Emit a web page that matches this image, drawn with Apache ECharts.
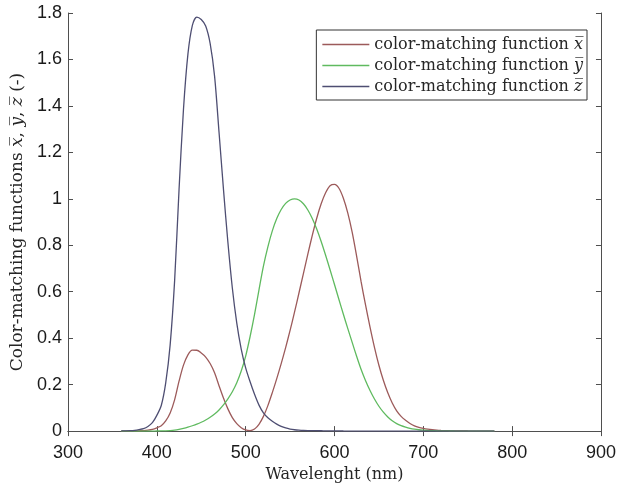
<!DOCTYPE html>
<html><head><meta charset="utf-8">
<script src="https://cdn.jsdelivr.net/npm/echarts@6/dist/echarts.min.js"></script>
<style>html,body{margin:0;padding:0;background:#fff}#c{width:619px;height:488px}</style>
</head><body><div id="c"></div>
<script>
const wavelengths = [360,365,370,375,380,385,390,395,400,405,410,415,420,425,430,435,440,445,450,455,460,465,470,475,480,485,490,495,500,505,510,515,520,525,530,535,540,545,550,555,560,565,570,575,580,585,590,595,600,605,610,615,620,625,630,635,640,645,650,655,660,665,670,675,680,685,690,695,700,705,710,715,720,725,730,735,740,745,750,755,760,765,770,775,780];
const xBar = [0.000130,0.000232,0.000415,0.000742,0.001368,0.002236,0.004243,0.007650,0.014310,0.023190,0.043510,0.077630,0.134380,0.214770,0.283900,0.328500,0.348280,0.348060,0.336200,0.318700,0.290800,0.251100,0.195360,0.142100,0.095640,0.057950,0.032010,0.014700,0.004900,0.002400,0.009300,0.029100,0.063270,0.109600,0.165500,0.225750,0.290400,0.359700,0.433450,0.512050,0.594500,0.678400,0.762100,0.842500,0.916300,0.978600,1.026300,1.056700,1.062200,1.045600,1.002600,0.938400,0.854450,0.751400,0.642400,0.541900,0.447900,0.360800,0.283500,0.218700,0.164900,0.121200,0.087400,0.063600,0.046770,0.032900,0.022700,0.015840,0.011359,0.008111,0.005790,0.004109,0.002899,0.002049,0.001440,0.001000,0.000690,0.000476,0.000332,0.000235,0.000166,0.000117,0.000083,0.000059,0.000042];
const yBar = [0.000004,0.000007,0.000012,0.000022,0.000039,0.000064,0.000120,0.000217,0.000396,0.000640,0.001210,0.002180,0.004000,0.007300,0.011600,0.016840,0.023000,0.029800,0.038000,0.048000,0.060000,0.073900,0.090980,0.112600,0.139020,0.169300,0.208020,0.258600,0.323000,0.407300,0.503000,0.608200,0.710000,0.793200,0.862000,0.914850,0.954000,0.980300,0.994950,1.000000,0.995000,0.978600,0.952000,0.915400,0.870000,0.816300,0.757000,0.694900,0.631000,0.566800,0.503000,0.441200,0.381000,0.321000,0.265000,0.217000,0.175000,0.138200,0.107000,0.081600,0.061000,0.044580,0.032000,0.023200,0.017000,0.011920,0.008210,0.005723,0.004102,0.002929,0.002091,0.001484,0.001047,0.000740,0.000520,0.000361,0.000249,0.000172,0.000120,0.000085,0.000060,0.000042,0.000030,0.000021,0.000015];
const zBar = [0.000606,0.001086,0.001946,0.003486,0.006450,0.010550,0.020050,0.036210,0.067850,0.110200,0.207400,0.371300,0.645600,1.039050,1.385600,1.622960,1.747060,1.782600,1.772110,1.744100,1.669200,1.528100,1.287640,1.041900,0.812950,0.616200,0.465180,0.353300,0.272000,0.212300,0.158200,0.111700,0.078250,0.057250,0.042160,0.029840,0.020300,0.013400,0.008750,0.005750,0.003900,0.002750,0.002100,0.001800,0.001650,0.001400,0.001100,0.001000,0.000800,0.000600,0.000340,0.000240,0.000190,0.000100,0.000050,0.000030,0.000020,0.000010,0,0,0,0,0,0,0,0,0,0,0,0,0,0,0,0,0,0,0,0,0,0,0,0,0,0,0];
const xTicks = [300,400,500,600,700,800,900];
const yTicks = [0,0.2,0.4,0.6,0.8,1,1.2,1.4,1.6,1.8];
const seriesNames = ['x','y','z'];
const colors = ['#9c5a5a','#5fba5f','#4e4e72'];

const pair = a => wavelengths.map((w,i)=>[w,a[i]]);
const serif = '"DejaVu Serif", "Liberation Serif", serif';
const sans = '"Liberation Sans", Arial, sans-serif';
const axisCol = '#4f4f4f';
const mkRich = sz => ({
  n:{fontFamily:serif,fontSize:sz,color:'#262626'},
  v:{fontFamily:serif,fontSize:sz,fontStyle:'italic',color:'#262626'}
});
const chart = echarts.init(document.getElementById('c'),null,{renderer:'canvas'});
const common = {
  axisLine:{lineStyle:{color:axisCol,width:1}},
  axisTick:{inside:true,length:5,lineStyle:{color:axisCol}},
  splitLine:{show:false}
};
chart.setOption({
  animation:false,
  backgroundColor:'#fff',
  grid:{left:68,right:18,top:13,bottom:54},
  legend:{
    data:seriesNames,orient:'vertical',right:32,top:30,
    backgroundColor:'#fff',borderColor:'#333',borderWidth:1,
    padding:[4,4,3,6],itemWidth:47,itemHeight:1.5,itemGap:0,
    icon:'rect',
    formatter: n => '{n|color-matching function }{v|' + n + '\u0305}',
    textStyle:{rich:mkRich(16),lineHeight:21}
  },
  xAxis:[
    Object.assign({type:'value',min:300,max:900,interval:100,position:'bottom',
      name:'Wavelenght (nm)',nameLocation:'middle',nameGap:30,
      nameTextStyle:{fontFamily:serif,fontSize:16,color:'#262626'},
      axisLabel:{fontFamily:sans,fontSize:18,color:'#1a1a1a',margin:13}},common),
    Object.assign({type:'value',min:300,max:900,interval:100,position:'top',
      axisLabel:{show:false}},common)
  ],
  yAxis:[
    Object.assign({type:'value',min:0,max:1.8,interval:0.2,position:'left',
      name:'{n|Color-matching functions }{v|x\u0305}{n|, }{v|y\u0305}{n|, }{v|z\u0305}{n| (-)}',
      nameLocation:'middle',nameGap:41,nameRotate:90,
      nameTextStyle:{rich:mkRich(17)},
      axisLabel:{fontFamily:sans,fontSize:18,color:'#1a1a1a',margin:6}},common),
    Object.assign({type:'value',min:0,max:1.8,interval:0.2,position:'right',
      axisLabel:{show:false}},common)
  ],
  series:[xBar,yBar,zBar].map((d,i)=>({
    name:seriesNames[i],type:'line',data:pair(d),smooth:0.3,
    symbol:'none',showSymbol:false,color:colors[i],
    lineStyle:{width:1.3,color:colors[i]}
  }))
});
</script></body></html>
